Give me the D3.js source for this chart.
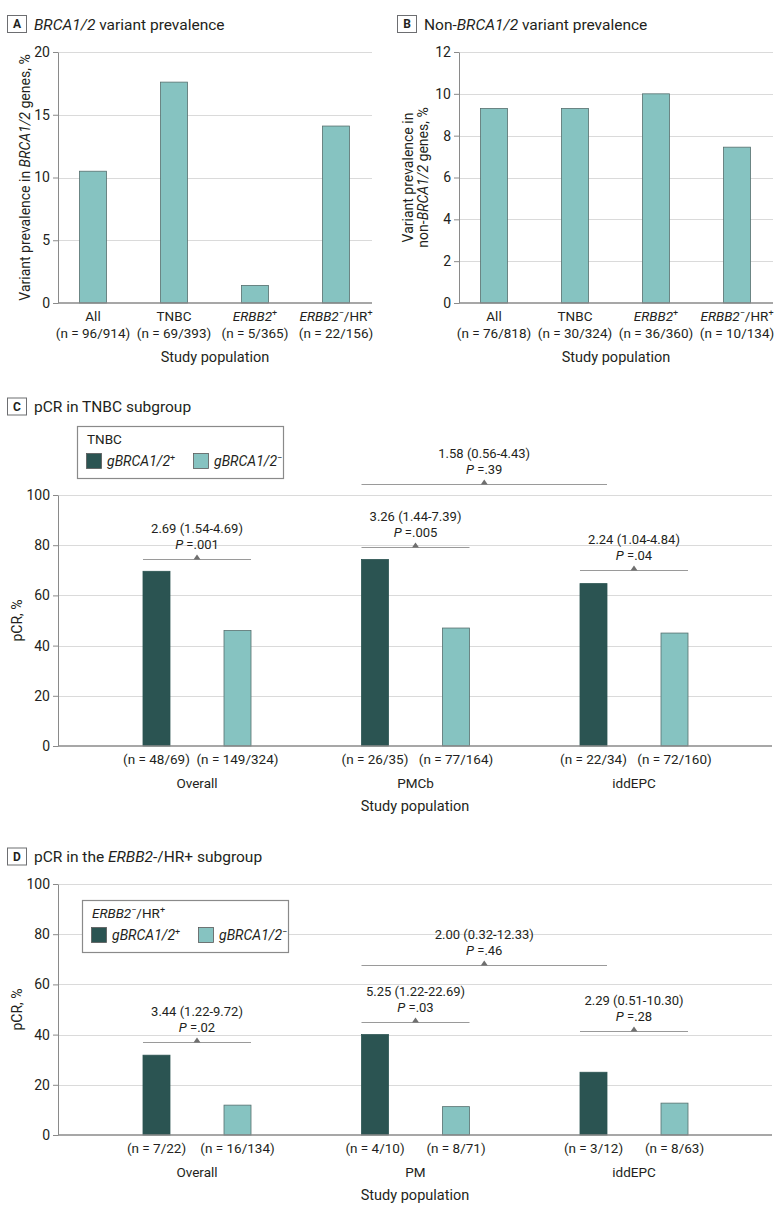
<!DOCTYPE html>
<html>
<head>
<meta charset="utf-8">
<script src="https://cdn.jsdelivr.net/npm/d3@7"></script>
<style>
    body { margin: 0; background: #ffffff; }
    svg text { font-family: Roboto, "Open Sans", sans-serif; font-size: 13.5px; fill: #231f20; }
</style>
</head>
<body>
<svg id="figura" width="780" height="1214"></svg>

<script>
    // ---- datos ----
    const prevCategorias = ["All", "TNBC", "<i>ERBB2</i><sup>+</sup>", "<i>ERBB2</i><sup>−</sup>/HR<sup>+</sup>"];

    const brcaValores = [10.5, 17.6, 1.4, 14.1];
    const brcaConteos = ["(n = 96/914)", "(n = 69/393)", "(n = 5/365)", "(n = 22/156)"];
    const brcaTicks = [0, 5, 10, 15, 20];

    const noBrcaValores = [9.3, 9.3, 10.0, 7.45];
    const noBrcaConteos = ["(n = 76/818)", "(n = 30/324)", "(n = 36/360)", "(n = 10/134)"];
    const noBrcaTicks = [0, 2, 4, 6, 8, 10, 12];

    const pcrTicks = [0, 20, 40, 60, 80, 100];

    const tnbcGrupos = ["Overall", "PMCb", "iddEPC"];
    const tnbcPositivos = [69.6, 74.3, 64.7];
    const tnbcNegativos = [46.0, 47.0, 45.0];
    const tnbcConteosPos = ["(n = 48/69)", "(n = 26/35)", "(n = 22/34)"];
    const tnbcConteosNeg = ["(n = 149/324)", "(n = 77/164)", "(n = 72/160)"];
    const tnbcComparaciones = [
        { desde: ["Overall", "pos"], hasta: ["Overall", "neg"], nivel: 74.6, razon: "2.69 (1.54-4.69)", p: " =.001" },
        { desde: ["PMCb", "pos"], hasta: ["PMCb", "neg"], nivel: 79.4, razon: "3.26 (1.44-7.39)", p: " =.005" },
        { desde: ["iddEPC", "pos"], hasta: ["iddEPC", "neg"], nivel: 70.0, razon: "2.24 (1.04-4.84)", p: " =.04" },
        { desde: ["PMCb", "pos"], hasta: ["iddEPC", "pos"], nivel: 104.2, razon: "1.58 (0.56-4.43)", p: " =.39" }
    ];

    const hrGrupos = ["Overall", "PM", "iddEPC"];
    const hrPositivos = [31.8, 40.0, 25.0];
    const hrNegativos = [11.9, 11.3, 12.7];
    const hrConteosPos = ["(n = 7/22)", "(n = 4/10)", "(n = 3/12)"];
    const hrConteosNeg = ["(n = 16/134)", "(n = 8/71)", "(n = 8/63)"];
    const hrComparaciones = [
        { desde: ["Overall", "pos"], hasta: ["Overall", "neg"], nivel: 37.1, razon: "3.44 (1.22-9.72)", p: " =.02" },
        { desde: ["PM", "pos"], hasta: ["PM", "neg"], nivel: 45.2, razon: "5.25 (1.22-22.69)", p: " =.03" },
        { desde: ["iddEPC", "pos"], hasta: ["iddEPC", "neg"], nivel: 41.6, razon: "2.29 (0.51-10.30)", p: " =.28" },
        { desde: ["PM", "pos"], hasta: ["iddEPC", "pos"], nivel: 67.6, razon: "2.00 (0.32-12.33)", p: " =.46" }
    ];

    // ---- estilos ----
    const CLARO = "#86c3c1", OSCURO = "#2b5452", BORDE = "#566f6e";
    const REJILLA = "#dadada", EJE = "#8a8a8a", CORCHETE = "#9a9a9a";

    const svg = d3.select("#figura");

    // texto con cursiva (<i>) y superindice (<sup>)
    function textoRico(texto, cadena) {
        cadena.split(/(<i>.*?<\/i>|<sup>.*?<\/sup>)/).filter(s => s.length).forEach(s => {
            if (s.startsWith("<i>")) {
                texto.append("tspan").attr("font-style", "italic").text(s.slice(3, -4));
            } else if (s.startsWith("<sup>")) {
                texto.append("tspan").style("font-size", "9px").attr("baseline-shift", "super").text(s.slice(5, -6));
            } else {
                texto.append("tspan").text(s);
            }
        });
        return texto;
    }

    function encabezado(x, yc, letra, titulo) {
        svg.append("rect").attr("x", x + 0.5).attr("y", yc - 8.5).attr("width", 19).attr("height", 17)
            .attr("fill", "#fff").attr("stroke", "#6d6e71");
        svg.append("text").attr("x", x + 10).attr("y", yc).attr("dy", "0.36em")
            .attr("text-anchor", "middle").attr("font-weight", "bold").style("font-size", "12px").text(letra);
        textoRico(svg.append("text").attr("x", x + 27).attr("y", yc).attr("dy", "0.36em").style("font-size", "15.5px"), titulo);
    }

    function estiloEje(eje) {
        eje.attr("font-family", null).attr("font-size", null);
        eje.select(".domain").attr("stroke", EJE);
        eje.selectAll(".tick line").attr("stroke", EJE);
        eje.selectAll(".tick text").attr("fill", "#231f20").style("font-size", "14px");
    }

    function rejilla(g, y, ticks, x0, x1) {
        g.selectAll(null).data(ticks.filter(t => t > 0)).enter().append("line")
            .attr("x1", x0).attr("x2", x1)
            .attr("y1", d => Math.round(y(d)) + 0.5).attr("y2", d => Math.round(y(d)) + 0.5)
            .attr("stroke", REJILLA);
    }

    // ---- paneles A y B ----
    function panelPrevalencia(cfg) {
        const g = svg.append("g");
        const y = d3.scaleLinear().domain([0, d3.max(cfg.ticks)]).range([303, 52]);
        const x = d3.scaleBand().domain(prevCategorias).range(cfg.bandas).paddingInner(2 / 3).paddingOuter(1 / 3);

        rejilla(g, y, cfg.ticks, cfg.x0, cfg.x1);

        g.selectAll(null).data(cfg.valores).enter().append("rect")
            .attr("x", (d, i) => x(prevCategorias[i]))
            .attr("width", x.bandwidth())
            .attr("y", d => y(d))
            .attr("height", d => y(0) - y(d))
            .attr("fill", CLARO).attr("stroke", BORDE).attr("stroke-width", 0.8);

        g.append("line").attr("x1", cfg.x0).attr("x2", cfg.x1).attr("y1", y(0)).attr("y2", y(0))
            .attr("stroke", EJE).attr("stroke-width", 1.5);

        const eje = g.append("g").attr("transform", `translate(${cfg.x0},0)`)
            .call(d3.axisLeft(y).tickValues(cfg.ticks).tickSize(5).tickSizeOuter(0).tickPadding(3));
        estiloEje(eje);

        prevCategorias.forEach((c, i) => {
            const cx = x(c) + x.bandwidth() / 2;
            textoRico(g.append("text").attr("x", cx).attr("y", y(0) + 13).attr("dy", "0.36em").attr("text-anchor", "middle"), c);
            g.append("text").attr("x", cx).attr("y", y(0) + 30).attr("dy", "0.36em").attr("text-anchor", "middle").text(cfg.conteos[i]);
        });
        g.append("text").attr("x", (cfg.x0 + cfg.x1) / 2).attr("y", y(0) + 54).attr("dy", "0.36em")
            .attr("text-anchor", "middle").style("font-size", "14.5px").text("Study population");

        cfg.etiquetaY.forEach((linea, i) => {
            textoRico(g.append("text")
                .attr("transform", `translate(${cfg.xEtiqueta + i * 15},${(y(0) + y(d3.max(cfg.ticks))) / 2}) rotate(-90)`)
                .attr("dy", "0.36em").attr("text-anchor", "middle").style("font-size", "14px"), linea);
        });
    }

    // ---- paneles C y D ----
    function panelPCR(cfg) {
        const g = svg.append("g");
        const x0 = 58, x1 = 772;
        const y = d3.scaleLinear().domain([0, 100]).range([cfg.cero, cfg.cero - 251]);
        const x = d3.scaleBand().domain(cfg.grupos).range([87.75, 743.25]);
        const xs = d3.scaleBand().domain(["pos", "neg"]).range([0, x.bandwidth()]).paddingInner(2 / 3).paddingOuter(0.682);

        rejilla(g, y, pcrTicks, x0, x1);

        const barras = cfg.grupos.flatMap((gr, i) => [
            { grupo: gr, serie: "pos", valor: cfg.positivos[i], n: cfg.conteosPos[i] },
            { grupo: gr, serie: "neg", valor: cfg.negativos[i], n: cfg.conteosNeg[i] }
        ]);

        g.selectAll(null).data(barras).enter().append("rect")
            .attr("x", d => x(d.grupo) + xs(d.serie))
            .attr("width", xs.bandwidth())
            .attr("y", d => y(d.valor))
            .attr("height", d => y(0) - y(d.valor))
            .attr("fill", d => d.serie === "pos" ? OSCURO : CLARO)
            .attr("stroke", d => d.serie === "pos" ? OSCURO : BORDE).attr("stroke-width", 0.8);

        g.append("line").attr("x1", x0).attr("x2", x1).attr("y1", y(0)).attr("y2", y(0))
            .attr("stroke", EJE).attr("stroke-width", 1.5);

        const eje = g.append("g").attr("transform", `translate(${x0},0)`)
            .call(d3.axisLeft(y).tickValues(pcrTicks).tickSize(5).tickSizeOuter(0).tickPadding(3));
        estiloEje(eje);

        // etiquetas del eje x
        g.selectAll(null).data(barras).enter().append("text")
            .attr("x", d => x(d.grupo) + xs(d.serie) + xs.bandwidth() / 2)
            .attr("y", y(0) + 13).attr("dy", "0.36em").attr("text-anchor", "middle")
            .text(d => d.n);
        g.selectAll(null).data(cfg.grupos).enter().append("text")
            .attr("x", d => x(d) + x.bandwidth() / 2)
            .attr("y", y(0) + 37).attr("dy", "0.36em").attr("text-anchor", "middle")
            .text(d => d);
        g.append("text").attr("x", (x0 + x1) / 2).attr("y", y(0) + 60).attr("dy", "0.36em")
            .attr("text-anchor", "middle").style("font-size", "14.5px").text("Study population");

        g.append("text").attr("transform", `translate(17,${(y(0) + y(100)) / 2}) rotate(-90)`)
            .attr("dy", "0.36em").attr("text-anchor", "middle").style("font-size", "14px").text("pCR, %");

        // comparaciones
        cfg.comparaciones.forEach(c => {
            const xa = x(c.desde[0]) + xs(c.desde[1]);
            const xb = x(c.hasta[0]) + xs(c.hasta[1]) + xs.bandwidth();
            const yl = Math.round(y(c.nivel)) + 0.5;
            const xm = (xa + xb) / 2;
            g.append("line").attr("x1", xa).attr("x2", xb).attr("y1", yl).attr("y2", yl)
                .attr("stroke", CORCHETE).attr("stroke-width", 1.2);
            g.append("path").attr("d", `M${xm - 3.5},${yl} L${xm + 3.5},${yl} L${xm},${yl - 5} Z`).attr("fill", "#6f6f6f");
            g.append("text").attr("x", xm).attr("y", yl - 31).attr("dy", "0.36em").attr("text-anchor", "middle")
                .style("font-size", "13px").text(c.razon);
            textoRico(g.append("text").attr("x", xm).attr("y", yl - 15).attr("dy", "0.36em").attr("text-anchor", "middle")
                .style("font-size", "13px"), "<i>P</i>" + c.p);
        });

        // leyenda
        const L = cfg.leyenda;
        g.append("rect").attr("x", L.x + 0.5).attr("y", L.y + 0.5).attr("width", 206).attr("height", 52)
            .attr("fill", "#fff").attr("stroke", "#8a8a8a").attr("stroke-width", 1.2);
        textoRico(g.append("text").attr("x", L.x + 10).attr("y", L.y + 13).attr("dy", "0.36em"), L.titulo);
        [["pos", OSCURO, "<i>gBRCA1/2</i><sup>+</sup>"], ["neg", CLARO, "<i>gBRCA1/2</i><sup>−</sup>"]].forEach((it, i) => {
            const sx = L.x + 9 + i * 107;
            g.append("rect").attr("x", sx + 0.5).attr("y", L.y + 27.5).attr("width", 15).attr("height", 15)
                .attr("fill", it[1]).attr("stroke", "#5a5a5a").attr("stroke-width", 0.8);
            textoRico(g.append("text").attr("x", sx + 21).attr("y", L.y + 35).attr("dy", "0.36em").style("font-size", "14px"), it[2]);
        });
    }

    encabezado(7, 24, "A", "<i>BRCA1/2</i> variant prevalence");
    encabezado(397, 24, "B", "Non-<i>BRCA1/2</i> variant prevalence");
    encabezado(7, 406.5, "C", "pCR in TNBC subgroup");
    encabezado(7, 856.5, "D", "pCR in the <i>ERBB2</i>-/HR+ subgroup");

    panelPrevalencia({
        valores: brcaValores, conteos: brcaConteos, ticks: brcaTicks,
        x0: 58, x1: 372, bandas: [52.5, 376.5], xEtiqueta: 25,
        etiquetaY: ["Variant prevalence in <i>BRCA1/2</i> genes, %"]
    });
    panelPrevalencia({
        valores: noBrcaValores, conteos: noBrcaConteos, ticks: noBrcaTicks,
        x0: 459, x1: 773, bandas: [453.5, 777.5], xEtiqueta: 408,
        etiquetaY: ["Variant prevalence in", "non-<i>BRCA1/2</i> genes, %"]
    });

    panelPCR({
        grupos: tnbcGrupos, positivos: tnbcPositivos, negativos: tnbcNegativos,
        conteosPos: tnbcConteosPos, conteosNeg: tnbcConteosNeg, comparaciones: tnbcComparaciones,
        cero: 746, leyenda: { x: 77, y: 426, titulo: "TNBC" }
    });
    panelPCR({
        grupos: hrGrupos, positivos: hrPositivos, negativos: hrNegativos,
        conteosPos: hrConteosPos, conteosNeg: hrConteosNeg, comparaciones: hrComparaciones,
        cero: 1135, leyenda: { x: 82, y: 900, titulo: "<i>ERBB2</i><sup>−</sup>/HR<sup>+</sup>" }
    });
</script>
</body>
</html>
